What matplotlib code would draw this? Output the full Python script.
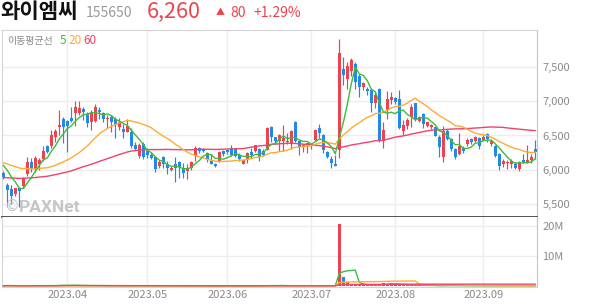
import matplotlib
matplotlib.use("Agg")
import matplotlib.pyplot as plt
import numpy as np
import pandas as pd

plt.rcParams['font.family'] = ['Noto Sans CJK KR', 'DejaVu Sans']

# ---------------- header / labels ----------------
stock_name = "와이엠씨"
stock_code = "155650"
last_price_text = "6,260"
change_text = "80"
change_pct_text = "+1.29%"
legend_title = "이동평균선"
ma_windows = [5, 20, 60]
price_ticks = [5500, 6000, 6500, 7000, 7500]
volume_ticks = [10e6, 20e6]
volume_tick_labels = ["10M", "20M"]

# trading days (KRX holidays removed)
krx_holidays = ["2023-05-01", "2023-05-05", "2023-05-29", "2023-06-06", "2023-08-15"]
dates = pd.bdate_range("2023-03-10", "2023-09-20", freq="C", holidays=krx_holidays)

# ---------------- daily candles ----------------
opens = [5955,5780,5716,5644,5730,5764,5933,6110,6019,6077,
         6150,6340,6341,6471,6620,6740,6711,6760,6822,6822,
         6885,6808,6692,6711,6870,6822,6740,6774,6740,6630,
         6596,6558,6558,6365,6197,6375,6279,6221,6183,6053,
         6183,6086,6000,6077,6110,6029,5980,6019,6197,6317,
         6300,6245,6125,6086,6125,6270,6290,6317,6300,6221,
         6087,6163,6260,6270,6308,6270,6293,6630,6471,6413,
         6413,6413,6375,6702,6413,6327,6365,6341,6437,6615,
         6510,6260,6163,6086,6293,7471,7327,7447,7543,7375,
         7207,7173,7159,6981,7183,6423,6870,7015,7048,7038,
         6560,6640,6763,6967,6715,6812,6642,6630,6617,6472,
         6180,6569,6447,6300,6229,6320,6370,6450,6423,6470,
         6440,6520,6380,6350,6229,6083,6100,6083,6083,6010,
         6140,6110,6140,6302]
highs = [5980,5800,5780,5740,5745,5900,6180,6170,6200,6170,
         6340,6360,6580,6600,6865,6775,6725,6920,7000,7000,
         6920,6850,6870,6966,6918,6840,6800,6800,6775,6760,
         6663,6740,6605,6410,6390,6400,6320,6245,6200,6140,
         6200,6125,6060,6180,6125,6100,6077,6130,6340,6330,
         6320,6260,6230,6100,6270,6290,6300,6360,6320,6250,
         6140,6260,6317,6365,6317,6300,6620,6640,6480,6520,
         6654,6530,6580,6710,6420,6370,6390,6380,6600,6665,
         6520,6270,6200,6210,7910,7650,7580,7625,7570,7400,
         7280,7207,7160,7135,7190,6700,7145,7135,7062,7159,
         6720,6760,6960,6967,6790,6822,6700,6670,6630,6500,
         6640,6590,6460,6320,6540,6340,6460,6470,6490,6480,
         6500,6530,6440,6360,6250,6150,6140,6160,6110,6130,
         6230,6360,6230,6440]
lows = [5870,5460,5500,5620,5450,5740,5910,5960,5960,6000,
        6125,6250,6320,6400,6500,6390,6260,6700,6640,6800,
        6730,6630,6580,6700,6740,6700,6605,6558,6460,6580,
        6460,6550,6317,6290,6173,6150,6173,6150,5970,6030,
        6030,5935,5980,5827,5885,5885,5860,6000,6125,6250,
        6260,6120,6080,6040,6110,6200,6230,6200,6180,6130,
        6080,6100,6170,6260,6130,6200,6290,6410,6380,6270,
        6270,6370,6300,6400,6210,6260,6250,6300,6420,6460,
        6250,6170,6030,6053,6173,7240,7180,7375,7180,7060,
        7170,7090,6840,6894,6400,6317,6740,6966,6966,6600,
        6500,6600,6620,6715,6700,6610,6620,6600,6490,6180,
        6110,6440,6280,6160,6210,6240,6350,6380,6400,6310,
        6420,6400,6350,6190,5990,6040,6010,6030,6010,5980,
        6100,6100,6100,6150]
closes = [5900,5700,5620,5730,5690,5884,6110,6030,6173,6135,
          6270,6260,6510,6567,6654,6630,6644,6711,6918,6904,
          6846,6678,6822,6918,6836,6740,6760,6702,6654,6692,
          6558,6640,6341,6308,6365,6183,6221,6173,6005,6115,
          6077,6019,6029,6029,6040,5957,6019,6115,6317,6270,
          6280,6150,6077,6053,6260,6230,6260,6221,6200,6160,
          6135,6245,6221,6356,6183,6221,6606,6485,6413,6510,
          6460,6400,6567,6413,6327,6365,6390,6375,6582,6534,
          6293,6183,6100,6053,7702,7385,7519,7606,7279,7207,
          7269,7145,6981,7096,6423,6582,7038,7062,6990,6615,
          6650,6720,6909,6739,6763,6666,6690,6660,6496,6326,
          6569,6447,6302,6180,6350,6280,6440,6400,6481,6340,
          6480,6447,6420,6204,6058,6132,6120,6132,6025,6107,
          6110,6140,6180,6260]
# closes before the visible window, estimated from where the 5/20/60-day averages start
closes_before_window = [5880,5850,5900,5870,5830,5860,5890,5840,5820,5860,5880,5850,5830,5870,5840,5860,
                        5720,5690,5660,5700,5650,5680,5640,5660,
                        5520,5480,5500,5470,5530,5490,5510,5500,
                        5900,5980,6020,6050,6010,6040,6030,6000,6020,
                        6080,6100,6060,6090,6110,6080,6100,6070,
                        6150,6180,6200,6160,6140,6170,6065,6100,6100,6150]
volume_m = [0.12,0.18,0.10,0.08,0.09,0.10,0.20,0.12,0.15,0.10,0.14,0.09,0.22,0.18,0.45,0.25,
            0.20,0.15,0.40,0.20,0.12,0.14,0.16,0.22,0.12,0.10,0.09,0.10,0.12,0.08,0.10,0.09,0.18,0.10,0.12,0.11,
            0.08,0.07,0.12,0.07,0.08,0.09,0.06,0.10,0.08,0.09,0.07,0.08,0.15,0.09,0.07,0.08,0.07,0.06,0.10,0.07,
            0.06,0.08,0.07,0.06,0.07,0.08,0.06,0.09,0.08,0.06,0.40,0.20,0.10,0.12,0.15,0.08,0.14,0.20,0.10,0.07,0.06,
            0.07,0.15,0.14,0.12,0.10,0.11,0.09,
            20.8,
            2.9,1.5,0.8,0.6,0.45,0.35,0.3,0.4,0.35,0.6,1.1,0.6,1.1,
            0.4,0.45,0.35,0.3,0.4,0.35,0.3,
            0.15,0.12,0.1,0.12,0.2,0.25,0.15,0.14,0.12,0.15,0.1,0.1,0.09,0.1,0.12,0.1,0.09,0.1,0.08,0.12,
            0.15,0.1,0.08,0.09,0.1,0.09,0.08,0.1,0.12]

o = np.array(opens, float); h = np.array(highs, float)
l = np.array(lows, float); c = np.array(closes, float)
vol = np.array(volume_m, float) * 1e6
n = len(c)
assert len(o) == n and len(h) == n and len(l) == n and len(vol) == n and len(dates) == n

RED = "#F0424C"
BLUE = "#2389E8"
MA_COLORS = {5: "#3DBB3D", 20: "#FFAA33", 60: "#F0426A"}
GRID = "#EDEDED"
TXT = "#8A8A8A"

full = np.concatenate([np.array(closes_before_window, float), c])
price_ma = {w: pd.Series(full).rolling(w).mean().to_numpy()[len(closes_before_window):] for w in ma_windows}
vol_ma = {w: pd.Series(vol).rolling(w, min_periods=1).mean().to_numpy() for w in ma_windows}

x = np.arange(n)
up = c >= o
colors = np.where(up, RED, BLUE)

W, H = 594, 304
fig = plt.figure(figsize=(W / 100, H / 100), dpi=100)
axp = fig.add_axes([2 / W, 87 / H, 535 / W, 187 / H])
axv = fig.add_axes([2 / W, 17 / H, 535 / W, 70 / H], sharex=axp)

# month ticks
month_pos = [i for i in range(1, n) if dates[i].month != dates[i - 1].month]
month_lab = [dates[i].strftime("%Y.%m") for i in month_pos]

for ax in (axp, axv):
    ax.set_axisbelow(True)
    for p in month_pos:
        ax.axvline(p, color=GRID, lw=1.0, zorder=0)
    ax.yaxis.tick_right()
    ax.tick_params(axis='y', length=0, pad=4, labelsize=8, labelcolor=TXT)
    ax.tick_params(axis='x', length=0)
    ax.spines['left'].set_color("#D4D4D4")
    ax.spines['right'].set_color("#C4C4C4")
    ax.spines['top'].set_color("#D4D4D4")
    ax.spines['bottom'].set_color("#D4D4D4")

# price panel
for t in price_ticks:
    axp.axhline(t, color=GRID, lw=1.0, zorder=0)
axp.vlines(x, l, h, colors=colors, lw=0.85, zorder=2)
body_bottom = np.minimum(o, c)
body_h = np.maximum(np.abs(c - o), 14)
axp.bar(x, body_h, bottom=body_bottom, width=0.72, color=colors, linewidth=0, zorder=3)
for w in [60, 20, 5]:
    axp.plot(x, price_ma[w], color=MA_COLORS[w], lw=1.0, zorder=4)
axp.set_ylim(5310, 8040)
axp.set_xlim(-0.35, n - 1 + 0.45)
axp.set_yticks(price_ticks)
axp.set_yticklabels([f"{t:,}" for t in price_ticks])
axp.tick_params(axis='x', labelbottom=False)
axp.spines['bottom'].set_color("#444444")
axp.spines['bottom'].set_linewidth(1.3)

# volume panel
for t in volume_ticks:
    axv.axhline(t, color=GRID, lw=1.0, zorder=0)
axv.bar(x, vol, width=0.72, color=colors, linewidth=0, zorder=2)
for w in [5, 20, 60]:
    axv.plot(x, vol_ma[w], color=MA_COLORS[w], lw=1.0, zorder=3)
axv.set_ylim(-0.3e6, 23.0e6)
axv.set_yticks(volume_ticks)
axv.set_yticklabels(volume_tick_labels)
axv.spines['top'].set_visible(False)
axv.set_xticks(month_pos)
axv.set_xticklabels(month_lab)
axv.tick_params(axis='x', labelsize=8, labelcolor=TXT, pad=2)

def px(xp, yp):
    return xp / W, 1 - yp / H

# header
fig.text(*px(0, 18.5), stock_name, fontsize=15.2, fontweight='bold', color='#111111', va='baseline')
fig.text(*px(86, 17), stock_code, fontsize=10, color='#9A9A9A', va='baseline')
fig.text(*px(147, 17.5), last_price_text, fontsize=15.5, color=RED, va='baseline')
fig.text(*px(216, 15.5), "▲", fontsize=6.5, color=RED, va='baseline')
fig.text(*px(230, 17), change_text, fontsize=10, color=RED, va='baseline')
fig.text(*px(253, 17), change_pct_text, fontsize=10, color=RED, va='baseline')

# legend
fig.text(*px(7, 44), legend_title, fontsize=7.2, color='#8A8A8A', va='baseline')
fig.text(*px(59.5, 44), str(ma_windows[0]), fontsize=8.5, color=MA_COLORS[5], va='baseline')
fig.text(*px(68, 44), str(ma_windows[1]), fontsize=8.5, color=MA_COLORS[20], va='baseline')
fig.text(*px(83, 44), str(ma_windows[2]), fontsize=8.5, color=MA_COLORS[60], va='baseline')

# watermark
fig.text(*px(5, 211), "©", fontsize=10.5, color='#C6C6C6', va='baseline', family=['DejaVu Sans'])
fig.text(*px(19, 211.5), "PAXNet", fontsize=12.5, color='#C6C6C6', fontweight='bold', va='baseline', family=['Roboto', 'DejaVu Sans'])

fig.savefig("out.png", dpi=100)
